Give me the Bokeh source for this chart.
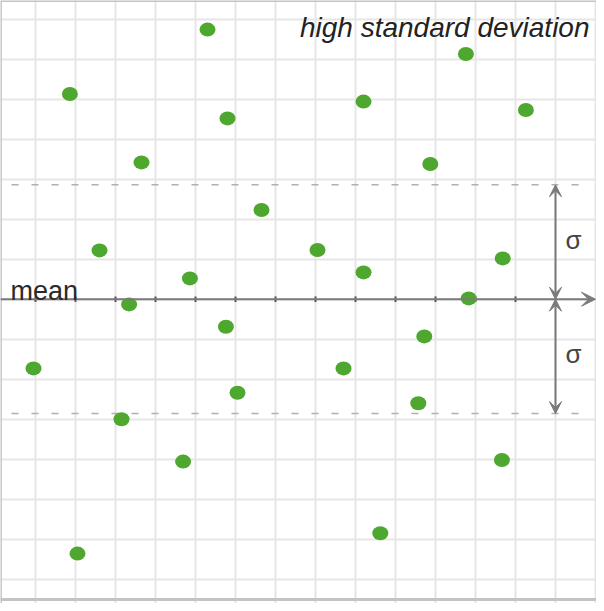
from bokeh.plotting import figure
from bokeh.models import Range1d, Grid, SingleIntervalTicker, Span, Arrow, VeeHead, Label
from bokeh.embed import file_html
from bokeh.resources import INLINE

# ---- data (grid units; mean at 0) ----
x_vals = [5.30, 1.86, 11.76, 5.80, 9.20, 13.26, 3.65, 10.87, 6.65, 2.60, 8.05, 12.68, 9.20,
          4.86, 3.34, 11.83, 5.76, 10.72, 0.95, 8.70, 6.05, 10.57, 3.15, 4.69, 12.66, 9.62, 2.05]
y_vals = [6.74, 5.13, 6.13, 4.52, 4.94, 4.73, 3.42, 3.38, 2.23, 1.22, 1.23, 1.02, 0.67,
          0.52, -0.13, 0.02, -0.69, -0.93, -1.73, -1.73, -2.34, -2.60, -3.00, -4.06, -4.02, -5.85, -6.36]
mean = 0.0
sigma = 2.86
title_text = "high standard deviation"
mean_label = "mean"
sigma_label = "σ"

GREEN = "#4ea72e"
GREY = "#7a7a7a"

X0, X1 = 0.125, 15.025
Y0, Y1 = -7.6075, 7.4675

p = figure(width=596, height=603, output_backend="svg", toolbar_location=None,
           x_range=Range1d(X0, X1), y_range=Range1d(Y0, Y1),
           x_axis_location=None, y_axis_location=None, min_border=0,
           outline_line_color=None, background_fill_color="white")
p.grid.visible = False
p.add_layout(Grid(dimension=0, ticker=SingleIntervalTicker(interval=1),
                  grid_line_color="#e6e6e6", grid_line_width=2))
p.add_layout(Grid(dimension=1, ticker=SingleIntervalTicker(interval=1),
                  grid_line_color="#e6e6e6", grid_line_width=2))

# frame borders
p.add_layout(Span(location=X0 + 0.01, dimension="height", line_color="#c4c4c4", line_width=2))
p.add_layout(Span(location=Y1 - 0.01, dimension="width", line_color="#c4c4c4", line_width=2))
p.add_layout(Span(location=-7.5075, dimension="width", line_color="#c4c4c4", line_width=3))

# ±sigma dashed lines
p.segment(x0=[0.4, 0.4], y0=[mean + sigma, mean - sigma], x1=[14.85, 14.85],
          y1=[mean + sigma, mean - sigma], line_color="#b0b0b0", line_width=1.5, line_dash="7 13")

# mean axis with arrow
p.add_layout(Arrow(x_start=X0, y_start=mean, x_end=15.0, y_end=mean, line_color=GREY, line_width=2,
                   end=VeeHead(size=14, fill_color=GREY, line_color=GREY, line_width=1)))
ticks = list(range(1, 14))
p.segment(x0=ticks, y0=[mean - 0.07] * len(ticks), x1=ticks, y1=[mean + 0.07] * len(ticks),
          line_color="#555555", line_width=2)

# sigma arrows
for sgn in (1, -1):
    p.add_layout(Arrow(x_start=14, y_start=mean, x_end=14, y_end=mean + sgn * sigma,
                       line_color=GREY, line_width=2,
                       start=VeeHead(size=12, fill_color=GREY, line_color=GREY, line_width=1),
                       end=VeeHead(size=12, fill_color=GREY, line_color=GREY, line_width=1)))

# points
p.ellipse(x=x_vals, y=y_vals, width=16, height=14, width_units="screen", height_units="screen",
          fill_color=GREEN, line_color=None)

# texts
p.add_layout(Label(x=0.375, y=0.2, text=mean_label, text_font="Liberation Sans",
                   text_font_size="27px", text_color="#2a2a2a", text_baseline="alphabetic"))
p.add_layout(Label(x=14.45, y=mean + 1.49, text=sigma_label, text_font="Liberation Sans",
                   text_font_size="26px", text_color="#444444", text_align="center", text_baseline="middle"))
p.add_layout(Label(x=14.45, y=mean - 1.38, text=sigma_label, text_font="Liberation Sans",
                   text_font_size="26px", text_color="#444444", text_align="center", text_baseline="middle"))
p.add_layout(Label(x=14.85, y=6.79, text=title_text, text_font="Liberation Sans",
                   text_font_style="italic", text_font_size="28px", text_color="#222222",
                   text_align="right", text_baseline="alphabetic"))

open("out.html", "w").write(file_html(p, INLINE))
